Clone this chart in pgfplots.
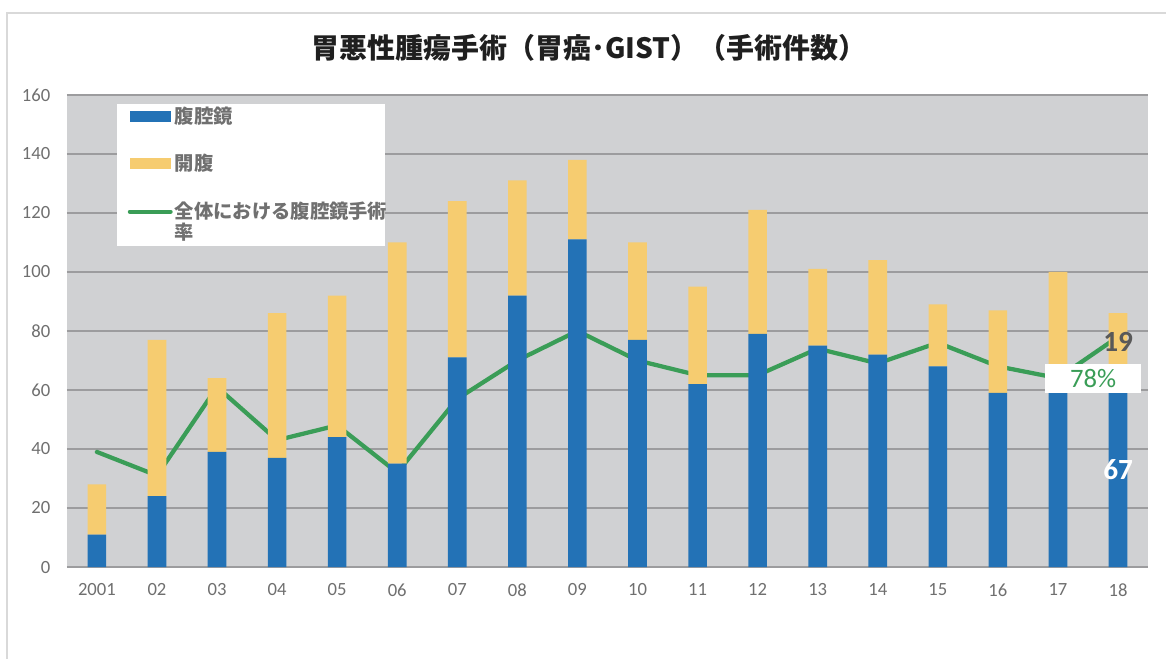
\documentclass[border=0pt]{standalone}
\usepackage{pgfplots}
\usepackage{pgfplotstable}
\pgfplotsset{compat=1.18}
\usepackage{fontspec}
\setmainfont{Carlito}
\newfontfamily\jp{Noto Sans CJK JP}
\definecolor{lapblue}{HTML}{2372B6}
\definecolor{openyel}{HTML}{F6CC70}
\definecolor{rategreen}{HTML}{3A9D57}
\definecolor{bggray}{HTML}{D0D1D3}
\definecolor{gridgray}{HTML}{9C9C9E}
\definecolor{ticktext}{HTML}{6F6F6F}
\definecolor{legtext}{HTML}{707070}
\definecolor{framegray}{HTML}{D9D9D9}
\definecolor{lbl}{HTML}{595959}

\pgfplotstableread{
x lap open rate
0 11 17 39
1 24 53 31
2 39 25 61
3 37 49 43
4 44 48 48
5 35 75 32
6 71 53 57
7 92 39 70
8 111 27 80
9 77 33 70
10 62 33 65
11 79 42 65
12 75 26 74
13 72 32 69
14 68 21 76
15 59 28 68
16 64 36 64
17 67 19 78
}\data

\begin{document}
\begin{tikzpicture}
\path (0pt,0pt) rectangle (875.25pt,495pt);
\draw[framegray, line width=1.5pt] (5.25pt,0pt) -- (5.25pt,485.25pt) -- (876pt,485.25pt);
\node[font=\jp\bfseries\fontsize{21}{25}\selectfont, text=black!88] at (442.5pt,459pt) {胃悪性腫瘍手術（胃癌･GIST）（手術件数）};
\begin{axis}[
  at={(50.25pt,69pt)}, anchor=south west,
  scale only axis, width=812.25pt, height=354.75pt,
  xmin=-0.5, xmax=17.5, ymin=0, ymax=160,
  ytick={0,20,...,160},
  xtick={0,...,17},
  xticklabels={2001,02,03,04,05,06,07,08,09,10,11,12,13,14,15,16,17,18},
  axis background/.style={fill=bggray},
  axis line style={draw=none},
  major tick length=0pt,
  ymajorgrids, grid style={gridgray, line width=1.1pt},
  tick label style={font=\fontsize{14}{16}\selectfont, text=ticktext},
  /pgf/number format/assume math mode=true,
  yticklabel style={xshift=-9pt},
  xticklabel style={yshift=-9pt},
  ybar stacked, bar width=0.31,
  clip=false,
]
\addplot[fill=lapblue, draw=none] table[x=x, y=lap] {\data};
\addplot[fill=openyel, draw=none] table[x=x, y=open] {\data};
\addplot[stack plots=false, sharp plot, rategreen, line width=3.2pt, line join=round, line cap=round, no marks] table[x=x, y=rate] {\data};
\end{axis}
% data labels
\node[font=\bfseries\fontsize{22}{24}\selectfont, text=lbl] at (840pt,238.5pt) {19};
\node[font=\bfseries\fontsize{22}{24}\selectfont, text=white] at (840pt,142.5pt) {67};
\node[fill=white, minimum width=72pt, minimum height=21.75pt, inner sep=0pt, text=rategreen, font=\fontsize{20}{22}\selectfont] at (821.25pt,210.4pt) {78\%};
% legend
\fill[white] (87.75pt,310.5pt) rectangle (289.5pt,417pt);
\fill[lapblue] (97.5pt,403.5pt) rectangle (128.25pt,411.75pt);
\fill[openyel] (97.5pt,368.25pt) rectangle (128.25pt,376.5pt);
\draw[rategreen, line width=3pt, line cap=round] (97.5pt,336pt) -- (128.25pt,336pt);
\begin{scope}[every node/.style={anchor=west, inner sep=0pt, text=legtext, font=\jp\bfseries\fontsize{14.5}{17}\selectfont}]
\node at (131.25pt,408pt) {腹腔鏡};
\node at (131.25pt,372.75pt) {開腹};
\node at (131.25pt,336pt) {全体における腹腔鏡手術};
\node at (131.25pt,320.25pt) {率};
\end{scope}
\end{tikzpicture}
\end{document}
